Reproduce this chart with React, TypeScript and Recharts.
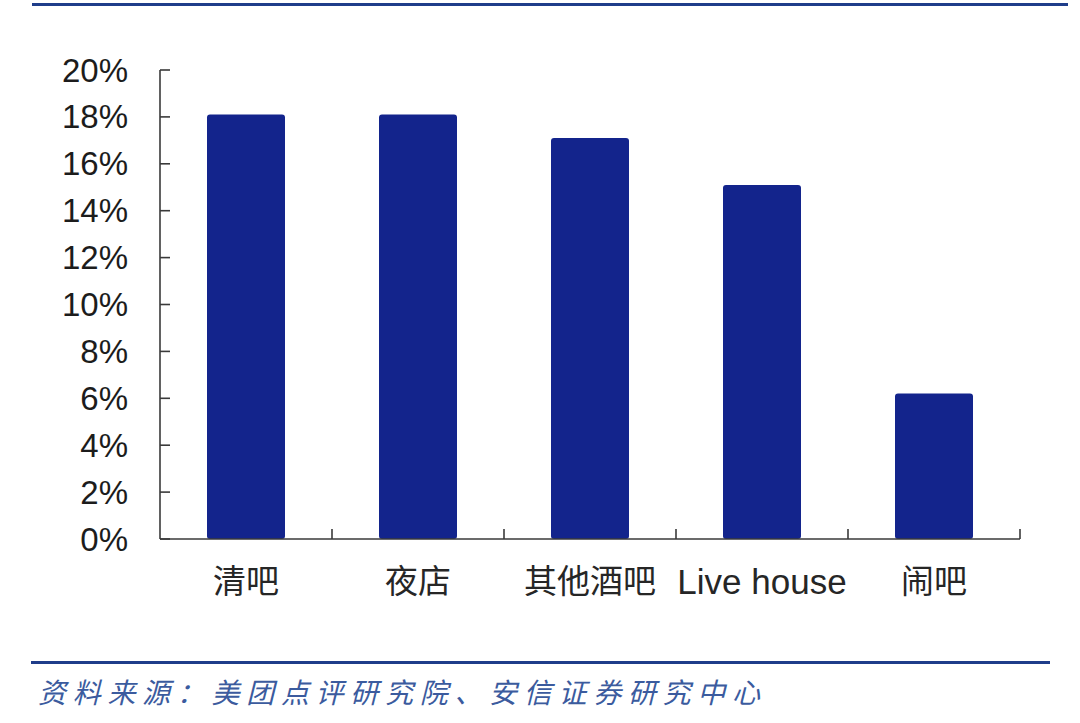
import React from "react";
import { BarChart, Bar, XAxis, YAxis } from "recharts";

const categories = ["清吧", "夜店", "其他酒吧", "Live house", "闹吧"];
const shareValues = [18.1, 18.1, 17.1, 15.1, 6.2];
const yTicks = [0, 2, 4, 6, 8, 10, 12, 14, 16, 18, 20];
const sourceText = "资料来源：美团点评研究院、安信证券研究中心";

const data = categories.map((name, i) => ({ name, value: shareValues[i] }));

const W = 1080;
const H = 723;
const Y_AXIS_W = 160;
const X_AXIS_H = 184;
const M = { top: 70, left: 0, right: 60, bottom: 0 };
const PLOT_W = W - Y_AXIS_W - M.right;
const BAND = PLOT_W / categories.length;
const AXIS_COLOR = "#3a3a3a";
const FONT = '"Liberation Sans", Arial, "Noto Sans CJK SC", sans-serif';

const YTick = (props: any) => {
  const { x, y, payload } = props;
  return (
    <g>
      <line x1={x} x2={x + 10} y1={y} y2={y} stroke={AXIS_COLOR} strokeWidth={1.6} />
      <text
        x={x - 32}
        y={y}
        textAnchor="end"
        dominantBaseline="central"
        fontSize={33}
        fill="#1c1c1c"
        fontFamily={FONT}
      >
        {payload.value}%
      </text>
    </g>
  );
};

const XTick = (props: any) => {
  const { x, y, payload, index } = props;
  const left = x - BAND / 2;
  const right = x + BAND / 2;
  const isLatin = /^[A-Za-z ]+$/.test(String(payload.value));
  return (
    <g>
      {index > 0 && (
        <line x1={left} x2={left} y1={y} y2={y - 10} stroke={AXIS_COLOR} strokeWidth={1.6} />
      )}
      {index === categories.length - 1 && (
        <line x1={right} x2={right} y1={y} y2={y - 10} stroke={AXIS_COLOR} strokeWidth={1.6} />
      )}
      <text
        x={x}
        y={y + 42}
        textAnchor="middle"
        dominantBaseline="central"
        fontSize={isLatin ? 35 : 33}
        fill="#262626"
        fontFamily={FONT}
      >
        {payload.value}
      </text>
    </g>
  );
};

export default function App() {
  return (
    <div
      style={{
        position: "absolute",
        left: 0,
        top: 0,
        width: W,
        height: H,
        background: "#ffffff",
        overflow: "hidden",
      }}
    >
      <div
        style={{
          position: "absolute",
          left: 32,
          top: 3,
          width: 1036,
          height: 3,
          background: "#1f3d8a",
        }}
      />
      <BarChart width={W} height={H} data={data} margin={M}>
        <YAxis
          domain={[0, 20]}
          ticks={yTicks}
          interval={0}
          width={Y_AXIS_W}
          tickSize={0}
          tickMargin={0}
          tickLine={false}
          axisLine={{ stroke: AXIS_COLOR, strokeWidth: 1.6 }}
          tick={<YTick />}
        />
        <XAxis
          dataKey="name"
          height={X_AXIS_H}
          interval={0}
          tickSize={0}
          tickMargin={0}
          tickLine={false}
          axisLine={{ stroke: AXIS_COLOR, strokeWidth: 1.6 }}
          tick={<XTick />}
        />
        <Bar
          dataKey="value"
          fill="#13248c"
          barSize={78}
          radius={[3, 3, 3, 3]}
          isAnimationActive={false}
        />
      </BarChart>
      <div
        style={{
          position: "absolute",
          left: 31,
          top: 661,
          width: 1019,
          height: 3,
          background: "#1f3d8a",
        }}
      />
      <div
        style={{
          position: "absolute",
          left: 38,
          top: 672,
          fontSize: 28,
          lineHeight: "38px",
          fontStyle: "italic",
          color: "#3b5b9e",
          fontFamily: '"Noto Sans CJK SC", sans-serif',
          letterSpacing: 6.7,
          whiteSpace: "nowrap",
        }}
      >
        {sourceText}
      </div>
    </div>
  );
}
